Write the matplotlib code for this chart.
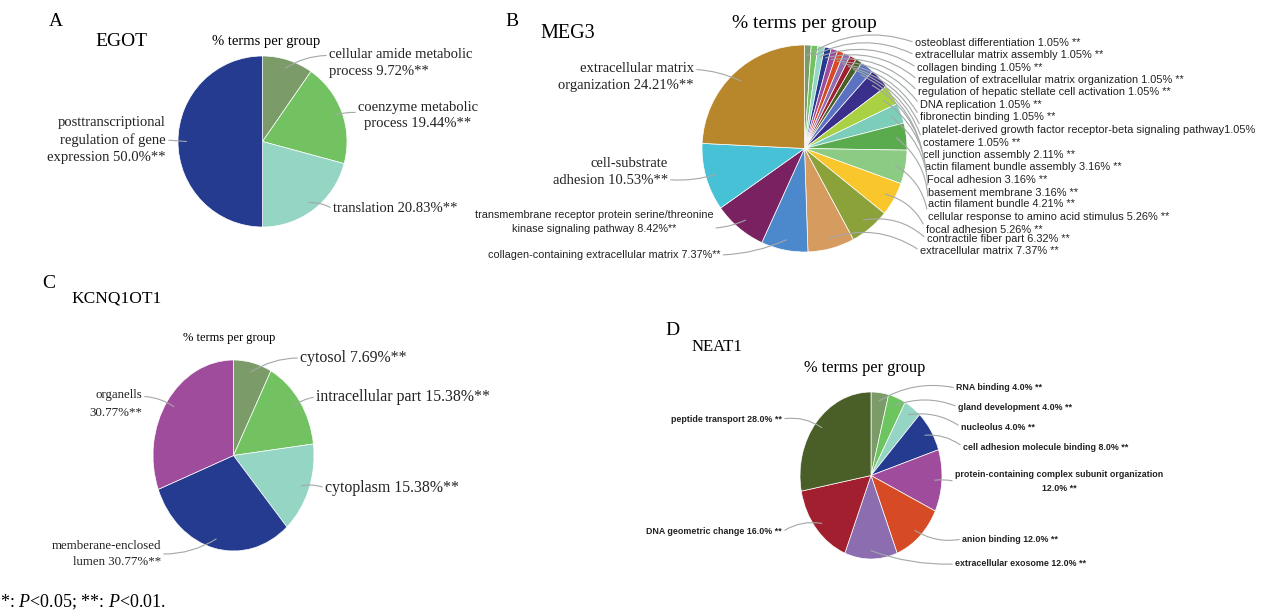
import matplotlib
matplotlib.use("Agg")
import matplotlib.pyplot as plt
import numpy as np

W, H = 1262, 611
plt.rcParams['mathtext.fontset'] = 'custom'
plt.rcParams['mathtext.rm'] = 'Liberation Serif'
plt.rcParams['mathtext.it'] = 'Liberation Serif:italic'

SERIF = 'Liberation Serif'
SANS = 'Liberation Sans'

# ---------------- data ----------------
# ClueGO-style group colours
GRAYGREEN = '#7b9b69'
GREEN = '#72c262'
TEAL = '#95d5c3'
NAVY = '#243b8f'
MAGENTA = '#a04c9c'
ORANGE = '#d64b25'
VIOLET = '#8b6db0'
CRIMSON = '#a11f2e'
OLIVE_DARK = '#4a5e27'

# A: EGOT
egot_terms = ["cellular amide metabolic\nprocess {}%**",
              "coenzyme metabolic\nprocess {}%**",
              "translation {}%**",
              "posttranscriptional\nregulation of gene\nexpression {}%**"]
egot_pct = [9.72, 19.44, 20.83, 50.0]
egot_colors = [GRAYGREEN, GREEN, TEAL, NAVY]

# B: MEG3
meg3_terms = ["osteoblast differentiation {}% **",
              "extracellular matrix assembly {}% **",
              "collagen binding {}% **",
              "regulation of extracellular matrix organization {}% **",
              "regulation of hepatic stellate cell activation {}% **",
              "DNA replication {}% **",
              "fibronectin binding {}% **",
              "platelet-derived growth factor receptor-beta signaling pathway{}%",
              "costamere {}% **",
              "cell junction assembly {}% **",
              "actin filament bundle assembly {}% **",
              "Focal adhesion {}% **",
              "basement membrane {}% **",
              "actin filament bundle {}% **",
              "cellular response to amino acid stimulus {}% **",
              "focal adhesion {}% **",
              "contractile fiber part {}% **",
              "extracellular matrix {}% **",
              "collagen-containing extracellular matrix {}%**",
              "transmembrane receptor protein serine/threonine\nkinase signaling pathway {}%**",
              "cell-substrate\nadhesion {}%**",
              "extracellular matrix\norganization {}%**"]
meg3_pct = [1.05, 1.05, 1.05, 1.05, 1.05, 1.05, 1.05, 1.05, 1.05, 2.11,
            3.16, 3.16, 3.16, 4.21, 5.26, 5.26, 6.32, 7.37,
            7.37, 8.42, 10.53, 24.21]
meg3_colors = [GRAYGREEN, GREEN, TEAL, NAVY, MAGENTA, ORANGE, VIOLET, CRIMSON,
               OLIVE_DARK, '#5b72c2', '#3b2f8c', '#a9d143', '#7ccdb9', '#5aab4e',
               '#8bcb83', '#f9c72b', '#8ba23b', '#d69b5f', '#4b88cc', '#7a2162',
               '#46c1d6', '#b8872b']

# C: KCNQ1OT1
kcnq_terms = ["cytosol {}%**", "intracellular part {}%**", "cytoplasm {}%**",
              "memberane-enclosed\nlumen {}%**", "organells\n{}%**"]
kcnq_pct = [7.69, 15.38, 15.38, 30.77, 30.77]
kcnq_colors = [GRAYGREEN, GREEN, TEAL, NAVY, MAGENTA]

# D: NEAT1
neat_terms = ["RNA binding {}% **", "gland development {}% **", "nucleolus {}% **",
              "cell adhesion molecule binding {}% **",
              "protein-containing complex subunit organization\n{}% **",
              "anion binding {}% **", "extracellular exosome {}% **",
              "DNA geometric change {}% **", "peptide transport {}% **"]
neat_pct = [4.0, 4.0, 4.0, 8.0, 12.0, 12.0, 12.0, 16.0, 28.0]
neat_colors = [GRAYGREEN, '#6cc55e', TEAL, NAVY, MAGENTA, ORANGE, VIOLET, CRIMSON, OLIVE_DARK]

# ---------------- layout ----------------
# (x, y from top, alignment, leader attach point, leader curvature, font style)
A_FONT = dict(fontsize=10.5, family=SERIF, linespacing=1.4)
egot_layout = [(329, 63, 'left', (0, 0.75), 0.15, A_FONT),
               (418, 115.5, 'center', (0, 0.6), 0.1, dict(A_FONT, linespacing=1.25)),
               (333, 209, 'left', (0, 0.5), 0.15, A_FONT),
               (166, 140, 'right', (1, 0.5), 0.0, A_FONT)]

B_RIGHT = dict(fontsize=7.9, family=SANS)
B_SANS = dict(fontsize=7.8, family=SANS, linespacing=1.55)
B_SERIF = dict(fontsize=10.5, family=SERIF, linespacing=1.45)
meg3_right_x = [915, 915, 917, 918, 918, 920, 920, 922, 923, 923,
                925, 927, 928, 928, 928, 926, 927, 920]
meg3_right_y = [42.7, 55, 67.7, 80, 91.7, 105, 117.3, 130, 142.7, 155,
                166.7, 180, 192.7, 204, 216.7, 230, 239.3, 250.7]
meg3_layout = [(x, y, 'left', (0, 0.5), 0.25, B_RIGHT)
               for x, y in zip(meg3_right_x, meg3_right_y)]
meg3_layout += [(488, 255, 'left', (1, 0.5), 0.1, B_SANS),
                (594, 222, 'center', (1, 0.25), 0.1, B_SANS),
                (668, 172, 'right', (1, 0.25), 0.1, B_SERIF),
                (694, 77, 'right', (1, 0.75), -0.1, B_SERIF)]

C_BIG = dict(fontsize=11.4, family=SERIF)
C_SMALL = dict(fontsize=9.3, family=SERIF, linespacing=1.5)
kcnq_layout = [(300, 358, 'left', (0, 0.5), 0.15, C_BIG),
               (316, 397, 'left', (0, 0.5), 0.15, C_BIG),
               (325, 488, 'left', (0, 0.5), 0.15, C_BIG),
               (161, 554, 'right', (1, 0.5), 0.15, C_SMALL),
               (142, 404, 'right', (1, 0.75), -0.15, dict(C_SMALL, linespacing=1.7))]

D_FONT = dict(fontsize=6.4, family=SANS, fontweight='bold', linespacing=1.7)
neat_layout = [(956, 388, 'left', (0, 0.5), 0.2, D_FONT),
               (958, 407, 'left', (0, 0.5), 0.2, D_FONT),
               (961, 427, 'left', (0, 0.5), 0.2, D_FONT),
               (963, 447, 'left', (0, 0.5), 0.2, D_FONT),
               (1059, 481.5, 'center', (0, 0.5), 0.1, D_FONT),
               (962, 539, 'left', (0, 0.5), -0.2, D_FONT),
               (955, 564, 'left', (0, 0.5), -0.1, D_FONT),
               (782, 532, 'right', (1, 0.5), -0.2, D_FONT),
               (782, 419, 'right', (1, 0.5), -0.2, D_FONT)]

fig = plt.figure(figsize=(W / 100, H / 100), dpi=100)
fig.patch.set_facecolor('white')


def ftext(x, y, s, **kw):
    fig.text(x / W, 1 - y / H, s, **kw)


def draw_pie(cx, cy, rx, ry, values, colors, terms, layout, edge='white'):
    ax = fig.add_axes([(cx - rx) / W, 1 - (cy + ry) / H, 2 * rx / W, 2 * ry / H])
    wedges, _ = ax.pie(values, colors=colors, startangle=90, counterclock=False,
                       radius=1, wedgeprops=dict(edgecolor=edge, linewidth=0.5))
    ax.set_aspect('auto')
    ax.set_xlim(-1, 1)
    ax.set_ylim(-1, 1)
    for w, term, v, (tx, ty, ha, rel, rad, fkw) in zip(wedges, terms, values, layout):
        ang = np.deg2rad((w.theta1 + w.theta2) / 2)
        px, py = 0.9 * np.cos(ang), 0.9 * np.sin(ang)
        ax.annotate(term.format(v), xy=(px, py), xycoords='data',
                    xytext=(tx, H - ty), textcoords='figure pixels',
                    ha=ha, va='center', multialignment=ha,
                    annotation_clip=False, color='#222222',
                    arrowprops=dict(arrowstyle='-', color='#a3a8a8', lw=0.8,
                                    relpos=rel, shrinkA=0, shrinkB=0,
                                    connectionstyle=f'arc3,rad={rad}'),
                    **fkw)
    return ax


# Panel A
ftext(49, 22, 'A', fontsize=14, family=SERIF, va='center')
ftext(95, 42, 'EGOT', fontsize=14, family=SERIF, va='center')
ftext(266, 42, '% terms per group', fontsize=10.5, family=SERIF, va='center', ha='center')
draw_pie(262.5, 141.5, 84.5, 85.5, egot_pct, egot_colors, egot_terms, egot_layout)

# Panel B
ftext(505, 22, 'B', fontsize=14, family=SERIF, va='center')
ftext(540, 33, 'MEG3', fontsize=14.5, family=SERIF, va='center')
ftext(804.5, 23, '% terms per group', fontsize=14, family=SERIF, va='center', ha='center')
draw_pie(804.5, 148.5, 102.5, 103.5, meg3_pct, meg3_colors, meg3_terms, meg3_layout)

# Panel C
ftext(42, 283, 'C', fontsize=14, family=SERIF, va='center')
ftext(71, 298, 'KCNQ1OT1', fontsize=12.5, family=SERIF, va='center')
ftext(229.5, 338, '% terms per group', fontsize=9, family=SERIF, va='center', ha='center')
draw_pie(233.5, 455.5, 80.5, 95.5, kcnq_pct, kcnq_colors, kcnq_terms, kcnq_layout)

# Panel D
ftext(665, 330, 'D', fontsize=14, family=SERIF, va='center')
ftext(692, 347, 'NEAT1', fontsize=12, family=SERIF, va='center')
ftext(865, 368, '% terms per group', fontsize=11.8, family=SERIF, va='center', ha='center')
draw_pie(871, 475.5, 71, 83.5, neat_pct, neat_colors, neat_terms, neat_layout)

# significance footnote
ftext(0, 602, r'*: $\mathit{P}$<0.05; **: $\mathit{P}$<0.01.', fontsize=13, family=SERIF, va='center')

fig.savefig('out.png', dpi=100, facecolor='white')
